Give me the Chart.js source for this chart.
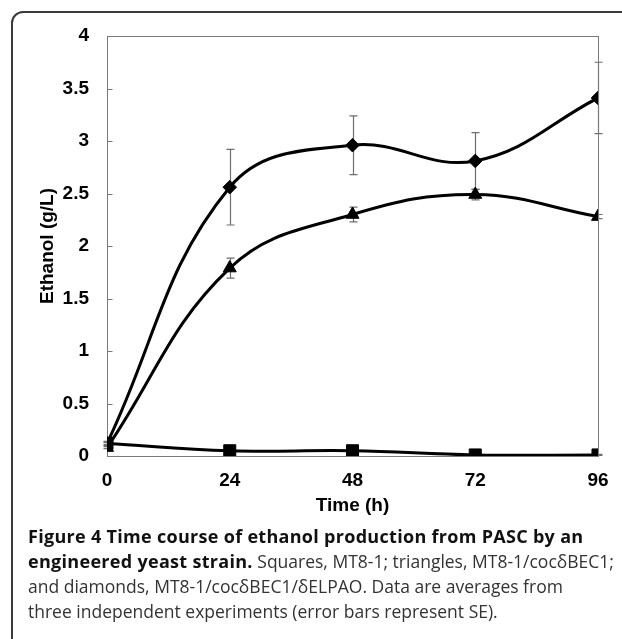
<!DOCTYPE html>
<html><head><meta charset="utf-8">
<script src="https://cdn.jsdelivr.net/npm/chart.js@4"></script>
<style>
html,body{margin:0;padding:0;background:#fff;width:622px;height:639px;overflow:hidden;}
#frame{position:absolute;left:11px;top:11px;width:660px;height:700px;border:2px solid #3a3a3a;border-radius:12px;box-sizing:border-box;}
#wrap{position:absolute;left:0;top:0;width:622px;height:530px;}
#cap{position:absolute;left:28px;top:524px;font-family:"Open Sans",sans-serif;font-size:17.5px;line-height:25px;color:#333;white-space:nowrap;}
#cap b{color:#111;font-weight:700;font-size:18px;letter-spacing:0.3px;}
</style>
</head><body>
<div id="frame"></div>
<div id="wrap"><canvas id="c" width="622" height="530"></canvas></div>
<div id="cap">
<div><b>Figure 4 Time course of ethanol production from PASC by an</b></div>
<div><b>engineered yeast strain.</b> Squares, MT8-1; triangles, MT8-1/cocδBEC1;</div>
<div>and diamonds, MT8-1/cocδBEC1/δELPAO. Data are averages from</div>
<div>three independent experiments (error bars represent SE).</div>
</div>
<script>
const hours = [0, 24, 48, 72, 96];
const squares = [0.12, 0.05, 0.05, 0.01, 0.01];
const triangles = [0.08, 1.79, 2.30, 2.49, 2.28];
const diamonds = [0.12, 2.56, 2.96, 2.81, 3.41];
const squaresSE = [0.01, 0.01, 0.01, 0.005, 0.005];
const trianglesSE = [0.01, 0.095, 0.07, 0.05, 0.02];
const diamondsSE = [0.02, 0.36, 0.28, 0.27, 0.34];
const yTickStep = 0.5;
const xTickStep = 24;

const pts = arr => hours.map((h, i) => ({x: h, y: arr[i]}));
const axisFont = {family: '"Liberation Sans", Arial, sans-serif', size: 19, weight: 'bold'};

const decor = {
  id: 'decor',
  beforeDatasetsDraw(chart) {
    const {ctx, chartArea: a, scales: {x, y}} = chart;
    ctx.save();
    // error bars
    ctx.strokeStyle = '#6e6e6e';
    ctx.lineWidth = 1.2;
    chart.data.datasets.forEach(ds => {
      ds.se.forEach((s, i) => {
        const px = Math.round(x.getPixelForValue(hours[i])) + 0.5;
        const v = ds.data[i].y;
        const y1 = y.getPixelForValue(v + s), y2 = y.getPixelForValue(v - s);
        ctx.beginPath();
        ctx.moveTo(px, y1); ctx.lineTo(px, y2);
        ctx.moveTo(px - 4, y1); ctx.lineTo(px + 4, y1);
        ctx.moveTo(px - 4, y2); ctx.lineTo(px + 4, y2);
        ctx.stroke();
      });
    });
    // plot box
    ctx.strokeStyle = '#7a7a7a';
    ctx.lineWidth = 1;
    const l = Math.round(a.left) + 0.5, t = Math.round(a.top) + 0.5;
    const r = Math.round(a.right) + 0.5, b = Math.round(a.bottom) + 0.5;
    ctx.strokeRect(l, t, r - l, b - t);
    // inward ticks
    ctx.beginPath();
    for (let v = 0; v <= 4 + 1e-9; v += yTickStep) {
      const py = Math.round(y.getPixelForValue(v)) + 0.5;
      ctx.moveTo(l, py); ctx.lineTo(l + 5, py);
    }
    ctx.stroke();
    ctx.restore();
  }
};

const mk = (label, arr, se, style, radius) => ({
  label, data: pts(arr), se,
  borderColor: '#000', backgroundColor: '#000',
  borderWidth: 3, tension: 0.4,
  pointStyle: style, pointRadius: radius, pointBorderWidth: 1,
  pointBackgroundColor: '#000', pointBorderColor: '#000'
});

new Chart(document.getElementById('c'), {
  type: 'line',
  data: {
    datasets: [
      mk('MT8-1', squares, squaresSE, 'rect', 8.5),
      mk('MT8-1/cocδBEC1', triangles, trianglesSE, 'triangle', 7.5),
      mk('MT8-1/cocδBEC1/δELPAO', diamonds, diamondsSE, 'rectRot', 6.8)
    ]
  },
  options: {
    responsive: false, animation: false, devicePixelRatio: 1,
    layout: {padding: {left: 15, right: 24, top: 36, bottom: 10}},
    plugins: {legend: {display: false}, tooltip: {enabled: false}},
    scales: {
      x: {
        type: 'linear', min: 0, max: 96,
        ticks: {stepSize: xTickStep, padding: 13, color: '#000', font: axisFont,
                callback: v => String(v)},
        grid: {display: false, drawTicks: false}, border: {display: false},
        title: {display: true, text: 'Time (h)', color: '#000', font: axisFont, padding: {top: 0, bottom: 3}},
        afterFit(s) { s.height = 64; }
      },
      y: {
        min: 0, max: 4,
        ticks: {stepSize: yTickStep, padding: 18, color: '#000', font: axisFont,
                callback: v => String(v)},
        grid: {display: false, drawTicks: false}, border: {display: false},
        title: {display: true, text: 'Ethanol (g/L)', color: '#000', font: axisFont, padding: {top: 21, bottom: 0}},
        afterFit(s) { s.width = 92; }
      }
    }
  },
  plugins: [decor]
});
</script>
</body></html>
